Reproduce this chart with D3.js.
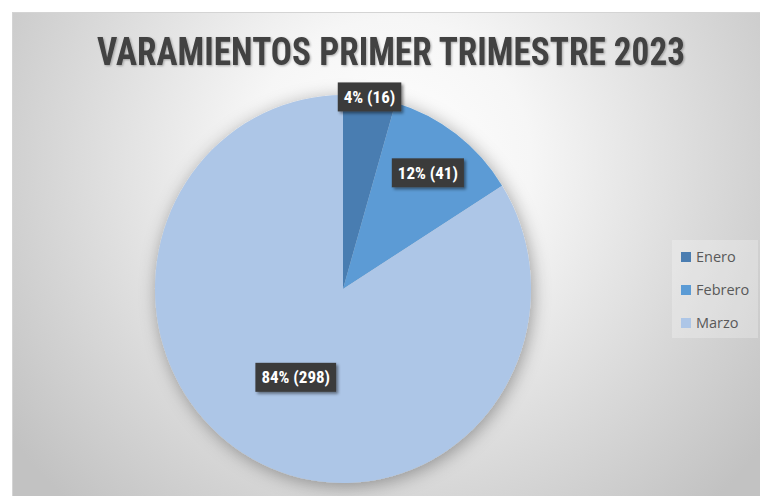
<!DOCTYPE html>
<html><head><meta charset="utf-8">
<script src="https://cdn.jsdelivr.net/npm/d3@7"></script>
<style>html,body{margin:0;padding:0;background:#fff;overflow:hidden}svg{display:block}</style>
</head><body>
<script>
const categories = ["Enero", "Febrero", "Marzo"];
const values = [16, 41, 298];
const colors = ["#4a7db1", "#5b9bd5", "#adc6e7"];
const title = "VARAMIENTOS PRIMER TRIMESTRE 2023";

const W = 760, H = 496;
const svg = d3.select("body").append("svg").attr("width", W).attr("height", H);
const defs = svg.append("defs");

const rg = defs.append("radialGradient").attr("id", "bg")
  .attr("gradientUnits", "userSpaceOnUse")
  .attr("cx", 390).attr("cy", 160).attr("r", 470);
rg.append("stop").attr("offset", 0).attr("stop-color", "#ffffff");
rg.append("stop").attr("offset", 0.3).attr("stop-color", "#f6f6f6");
rg.append("stop").attr("offset", 0.7).attr("stop-color", "#d8d8d8");
rg.append("stop").attr("offset", 1).attr("stop-color", "#c2c2c2");

const sh = defs.append("filter").attr("id", "pieShadow").attr("x", "-25%").attr("y", "-25%").attr("width", "150%").attr("height", "150%");
sh.append("feDropShadow").attr("dx", 2).attr("dy", 3).attr("stdDeviation", 9).attr("flood-color", "#000").attr("flood-opacity", 0.35);
const ls = defs.append("filter").attr("id", "lblShadow").attr("x", "-20%").attr("y", "-30%").attr("width", "150%").attr("height", "170%");
ls.append("feDropShadow").attr("dx", 2).attr("dy", 2).attr("stdDeviation", 1.5).attr("flood-color", "#000").attr("flood-opacity", 0.45);
const ts = defs.append("filter").attr("id", "txtShadow");
ts.append("feDropShadow").attr("dx", 1).attr("dy", 1).attr("stdDeviation", 1).attr("flood-color", "#000").attr("flood-opacity", 0.3);

svg.append("rect").attr("x", 12).attr("y", 12).attr("width", W).attr("height", H)
  .attr("fill", "url(#bg)");
svg.append("line").attr("x1", 12).attr("x2", W).attr("y1", 12.5).attr("y2", 12.5).attr("stroke", "#d4d4d4");
svg.append("line").attr("x1", 12.5).attr("x2", 12.5).attr("y1", 12).attr("y2", H).attr("stroke", "#d4d4d4");

const fontStack = "'Liberation Sans Narrow', 'Roboto Condensed', 'Open Sans', sans-serif";

svg.append("text").attr("x", 391).attr("y", 65).attr("text-anchor", "middle")
  .attr("font-family", fontStack).attr("font-weight", "bold").attr("font-size", 38)
  .attr("fill", "#424242").attr("filter", "url(#txtShadow)")
  .attr("textLength", 588).attr("lengthAdjust", "spacingAndGlyphs")
  .text(title);

const cx = 343, cy = 289, rx = 188, ry = 194;
const total = d3.sum(values);
const pie = d3.pie().sort(null).value(d => d);
const arcs = pie(values);
const arc = d3.arc().innerRadius(0).outerRadius(ry);

// percentages summing to 100 (largest remainder), as the spreadsheet shows them
const raw = values.map(v => v / total * 100);
const pcts = raw.map(Math.floor);
let rest = 100 - d3.sum(pcts);
d3.range(values.length).sort((a, b) => (raw[b] - pcts[b]) - (raw[a] - pcts[a]))
  .forEach(i => { if (rest > 0) { pcts[i]++; rest--; } });

const g = svg.append("g").attr("transform", `translate(${cx},${cy}) scale(${rx/ry},1)`);
g.append("g").attr("filter", "url(#pieShadow)")
  .selectAll("path").data(arcs).join("path")
  .attr("d", arc).attr("fill", (d, i) => colors[i]);

const labelR = [1.0, 0.75, 0.52];
const lg = svg.append("g").attr("transform", `translate(${cx},${cy})`);
arcs.forEach((d, i) => {
  const a = (d.startAngle + d.endAngle) / 2;
  const x = Math.sin(a) * rx * labelR[i], y = -Math.cos(a) * ry * labelR[i];
  const grp = lg.append("g").attr("transform", `translate(${x},${y})`);
  const rect = grp.append("rect").attr("fill", "#3b3b3b").attr("filter", "url(#lblShadow)");
  const t = grp.append("text").attr("text-anchor", "middle").attr("dy", "0.35em")
    .attr("font-family", fontStack).attr("font-weight", "bold").attr("font-size", 17)
    .attr("fill", "#ffffff").text(`${pcts[i]}% (${d.value})`);
  const w = t.node().getComputedTextLength();
  rect.attr("x", -w / 2 - 6).attr("y", -14.5).attr("width", w + 12).attr("height", 29);
});

const leg = svg.append("g");
leg.append("rect").attr("x", 672).attr("y", 240).attr("width", 86).attr("height", 98)
  .attr("fill", "#ffffff").attr("fill-opacity", 0.25);
categories.forEach((c, i) => {
  const y = 257 + i * 33;
  leg.append("rect").attr("x", 681).attr("y", y - 5).attr("width", 10).attr("height", 10).attr("fill", colors[i]);
  leg.append("text").attr("x", 696).attr("y", y).attr("dy", "0.35em")
    .attr("font-family", "'Open Sans', sans-serif").attr("font-size", 14.5)
    .attr("fill", "#595959").text(c);
});
</script>
</body></html>
